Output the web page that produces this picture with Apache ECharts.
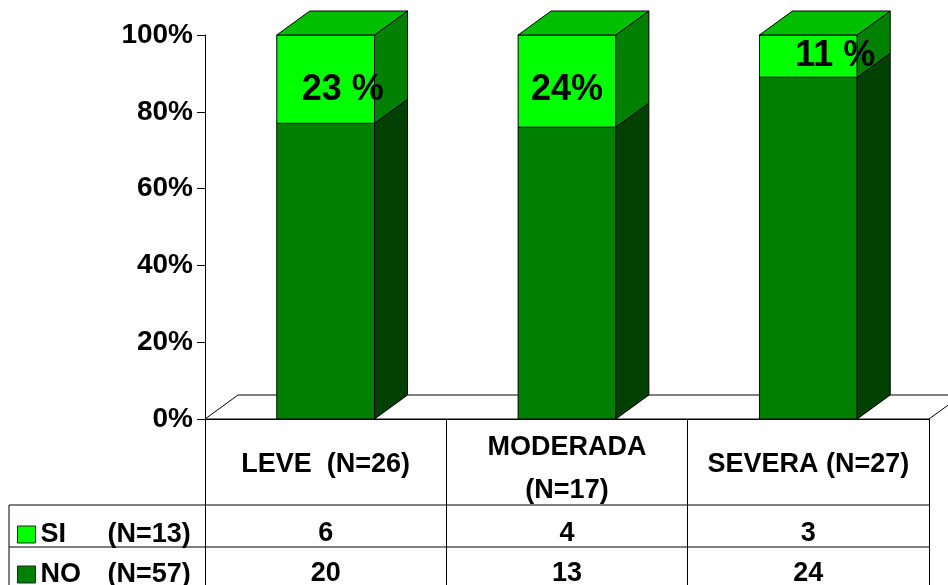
<!DOCTYPE html>
<html>
<head>
<meta charset="utf-8">
<script src="https://cdn.jsdelivr.net/npm/echarts@6/dist/echarts.min.js"></script>
<style>
  html, body { margin: 0; padding: 0; background: #fff; }
  #chart { width: 948px; height: 585px; }
</style>
</head>
<body>
<div id="chart"></div>
<script>
// Severity groups (table header text, one per column)
const categoryLabels = ['LEVE  (N=26)', 'MODERADA\n(N=17)', 'SEVERA (N=27)'];
// Share of each group, in percent (stacked to 100)
const siPct = [23, 24, 11];
const noPct = [77, 76, 89];
// Patient counts shown in the data table
const siCounts = [6, 4, 3];
const noCounts = [20, 13, 24];
// Text after each SI percentage label
const siLabelSuffix = [' %', '%', ' %'];
// Y-axis ticks
const yTicks = { min: 0, max: 100, interval: 20 };

// ---- styling / layout ----
const FONT = '"Liberation Sans", Arial, sans-serif';
const SI_FRONT = '#00FF00', SI_SIDE = '#008000', BAR_TOP = '#00BF00';
const NO_FRONT = '#008000', NO_SIDE = '#004000';
const DX = 33, DY = -24;            // 3D depth offset
const BAR_RATIO = 0.405;            // bar width as share of a category band
const GRID = { left: 205, right: 19, top: 35, bottom: 166 };
const HEADER_H = 86, ROW_H = 42, TABLE_LEFT = 9;
const labelNudge = [[17, 11], [0, 9], [27, 0]];

const W = 948, H = 585;
const axisY = H - GRID.bottom;
const axisRight = W - GRID.right;

const siTotal = siCounts.reduce((a, b) => a + b, 0);
const noTotal = noCounts.reduce((a, b) => a + b, 0);

function barGeom(api, i, from, to) {
  const b = api.coord([i, from]);
  const t = api.coord([i, to]);
  const w = api.size([1, 0])[0] * BAR_RATIO;
  return { x0: b[0] - w / 2, x1: b[0] + w / 2, yb: b[1], yt: t[1], w: w, cx: b[0] };
}

const edge = { stroke: '#000', lineWidth: 1 };

function renderFloor(params, api) {
  const first = api.coord([0, 0]);
  const last = api.coord([categoryLabels.length - 1, 0]);
  const band = api.size([1, 0])[0];
  const xl = first[0] - band / 2, xr = last[0] + band / 2, y = first[1];
  return {
    type: 'polygon',
    shape: { points: [[xl, y], [xl + DX, y + DY], [xr + DX, y + DY], [xr, y]] },
    style: Object.assign({ fill: '#fff' }, edge)
  };
}

function renderNo(params, api) {
  const i = api.value(0);
  const g = barGeom(api, i, 0, api.value(1));
  return {
    type: 'group',
    children: [
      { type: 'rect', shape: { x: g.x0, y: g.yt, width: g.w, height: g.yb - g.yt },
        style: Object.assign({ fill: NO_FRONT }, edge) },
      { type: 'polygon',
        shape: { points: [[g.x1, g.yb], [g.x1 + DX, g.yb + DY], [g.x1 + DX, g.yt + DY], [g.x1, g.yt]] },
        style: Object.assign({ fill: NO_SIDE }, edge) }
    ]
  };
}

function renderSi(params, api) {
  const i = api.value(0);
  const si = api.value(1), base = api.value(2);
  const g = barGeom(api, i, base, base + si);
  return {
    type: 'group',
    children: [
      { type: 'rect', shape: { x: g.x0, y: g.yt, width: g.w, height: g.yb - g.yt },
        style: Object.assign({ fill: SI_FRONT }, edge) },
      { type: 'polygon',
        shape: { points: [[g.x1, g.yb], [g.x1 + DX, g.yb + DY], [g.x1 + DX, g.yt + DY], [g.x1, g.yt]] },
        style: Object.assign({ fill: SI_SIDE }, edge) },
      { type: 'polygon',
        shape: { points: [[g.x0, g.yt], [g.x0 + DX, g.yt + DY], [g.x1 + DX, g.yt + DY], [g.x1, g.yt]] },
        style: Object.assign({ fill: BAR_TOP }, edge) },
      { type: 'text',
        x: g.cx + labelNudge[i][0], y: (g.yt + g.yb) / 2 + labelNudge[i][1],
        style: { text: si + siLabelSuffix[i], fill: '#000', font: 'bold 36px ' + FONT,
                 align: 'center', verticalAlign: 'middle' } }
    ]
  };
}

const cellFont = { fontSize: 27, fontWeight: 'bold', fontFamily: FONT, color: '#000' };

// One legend per table row, so each key sits in its own row cell
function rowLegend(name, total, rowTop) {
  return {
    data: [name],
    orient: 'vertical',
    left: 17, top: rowTop,
    padding: 0,
    itemWidth: 18, itemHeight: 17,
    icon: 'rect',
    selectedMode: false,
    itemStyle: { borderColor: '#222', borderWidth: 1 },
    formatter: n => `{n|${n}}{c|(N=${total})}`,
    textStyle: {
      lineHeight: 20,
      rich: {
        n: Object.assign({ width: 67, lineHeight: 20 }, cellFont),
        c: Object.assign({ lineHeight: 20 }, cellFont)
      }
    }
  };
}

const chart = echarts.init(document.getElementById('chart'), null, { renderer: 'canvas' });
chart.setOption({
  backgroundColor: '#fff',
  animation: false,
  grid: Object.assign({ outerBoundsMode: 'none', containLabel: false }, GRID),
  legend: [
    rowLegend('SI', siTotal, axisY + HEADER_H + 16),
    rowLegend('NO', noTotal, axisY + HEADER_H + ROW_H + 14)
  ],
  xAxis: {
    type: 'category',
    data: categoryLabels,
    boundaryGap: true,
    axisLine: { show: true, lineStyle: { color: '#000', width: 1 } },
    axisTick: { show: true, interval: 0, length: 170, lineStyle: { color: '#000', width: 1 } },
    axisLabel: {
      interval: 0, margin: 3,
      formatter: (value, idx) => {
        const lines = value.split('\n');
        const head = lines.length > 1
          ? `{ha|${lines[0]}}\n{hb|${lines[1]}}`
          : `{h|${lines[0]}}`;
        return `${head}\n{si|${siCounts[idx]}}\n{no|${noCounts[idx]}}`;
      },
      rich: {
        h: Object.assign({ lineHeight: HEADER_H }, cellFont),
        ha: Object.assign({ lineHeight: 52 }, cellFont),
        hb: Object.assign({ lineHeight: HEADER_H - 52 }, cellFont),
        si: Object.assign({ lineHeight: 52 }, cellFont),
        no: Object.assign({ lineHeight: 28 }, cellFont)
      }
    },
    splitLine: { show: false }
  },
  yAxis: {
    type: 'value',
    min: yTicks.min, max: yTicks.max, interval: yTicks.interval,
    axisLine: { show: true, lineStyle: { color: '#000', width: 1 } },
    axisTick: { show: true, length: 8, lineStyle: { color: '#000', width: 1 } },
    axisLabel: { formatter: '{value}%', margin: 12, fontSize: 28, fontWeight: 'bold',
                 fontFamily: FONT, color: '#000' },
    splitLine: { show: false }
  },
  graphic: [
    { type: 'line', shape: { x1: TABLE_LEFT, y1: axisY + HEADER_H, x2: axisRight, y2: axisY + HEADER_H },
      style: edge },
    { type: 'line', shape: { x1: TABLE_LEFT, y1: axisY + HEADER_H + ROW_H, x2: axisRight, y2: axisY + HEADER_H + ROW_H },
      style: edge },
    { type: 'line', shape: { x1: TABLE_LEFT, y1: axisY + HEADER_H, x2: TABLE_LEFT, y2: H },
      style: edge }
  ],
  series: [
    { type: 'custom', name: 'floor', renderItem: renderFloor, data: [[0, 0]], z: 1, silent: true },
    { type: 'custom', name: 'NO', renderItem: renderNo, itemStyle: { color: NO_FRONT },
      data: noPct.map((v, i) => [i, v]), encode: { x: 0, y: 1 }, z: 2 },
    { type: 'custom', name: 'SI', renderItem: renderSi, itemStyle: { color: SI_FRONT },
      data: siPct.map((v, i) => [i, v, noPct[i]]), encode: { x: 0, y: [1, 2] }, z: 3 }
  ]
});
</script>
</body>
</html>
